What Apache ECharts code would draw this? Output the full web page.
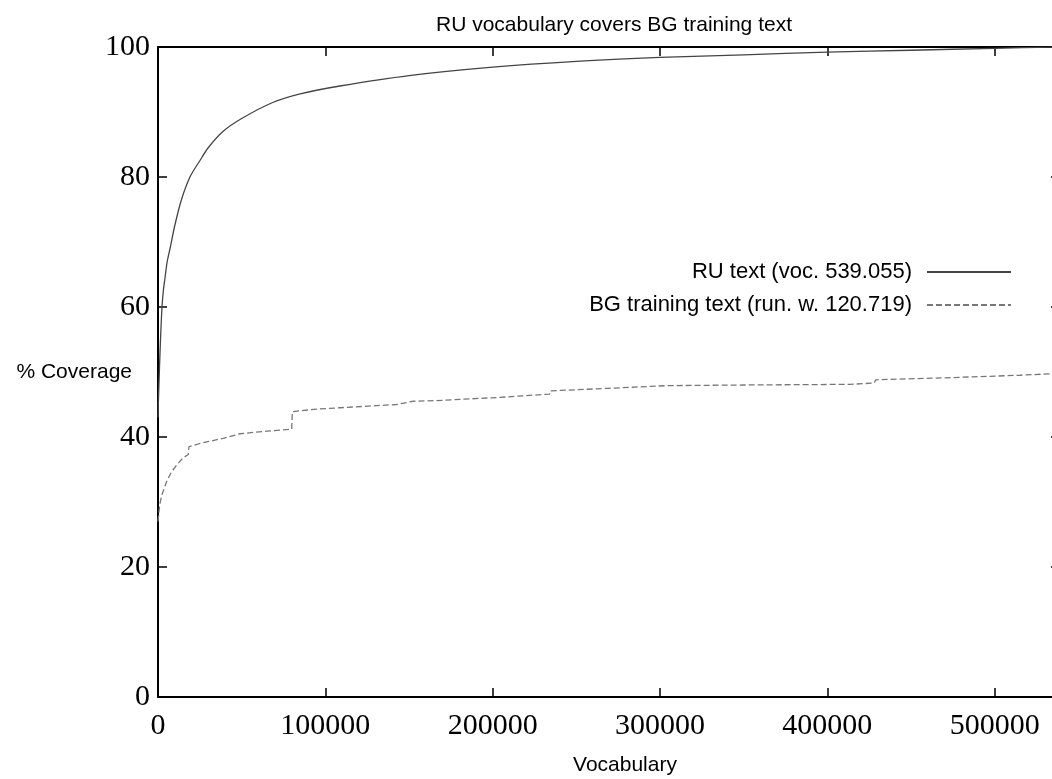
<!DOCTYPE html>
<html>
<head>
<meta charset="utf-8">
<script src="https://cdn.jsdelivr.net/npm/echarts@6/dist/echarts.min.js"></script>
<style>
html,body{margin:0;padding:0;background:#fff;}
#chart{width:1052px;height:779px;}
</style>
</head>
<body>
<div id="chart"></div>
<script>
// ---- data ----
const titleText = 'RU vocabulary covers BG training text';
const xName = 'Vocabulary';
const yName = '% Coverage';
const seriesNames = ['RU text (voc. 539.055)', 'BG training text (run. w. 120.719)'];
const xMax = 539055;
const yTicks = [0, 20, 40, 60, 80, 100];
const xTickStep = 100000;

// RU text: [vocabulary size, % coverage]
const ruVocab = [0, 300, 800, 1500, 2400, 3200, 4200, 5500, 7200, 10000, 14000, 19100, 25000, 30000, 38800, 50000, 68900, 85000, 108700, 150000, 200000, 250000, 300000, 350000, 400000, 450000, 500000, 539055];
const ruCover = [43, 46, 50, 55, 60, 62.5, 64.5, 67, 69, 72.5, 76.5, 80, 82.5, 84.5, 87, 89, 91.5, 92.8, 94, 95.6, 96.9, 97.8, 98.4, 98.8, 99.2, 99.5, 99.8, 100];

// BG training text
const bgVocab = [0, 1000, 2200, 5200, 8000, 11200, 15000, 18100, 18500, 25000, 39000, 49000, 65000, 79900, 80300, 95000, 108700, 142600, 152500, 166500, 204300, 234000, 234500, 270000, 303900, 350000, 413400, 428000, 429000, 470000, 515000, 539055];
const bgCover = [27, 29.5, 31, 33.2, 34.6, 35.7, 36.8, 37.3, 38.5, 39, 39.8, 40.5, 40.9, 41.2, 43.9, 44.3, 44.5, 45.0, 45.5, 45.6, 46.1, 46.6, 47.1, 47.5, 47.9, 48.0, 48.1, 48.3, 48.8, 49.1, 49.5, 49.8];

const ruData = ruVocab.map((v, i) => [v, ruCover[i]]);
const bgData = bgVocab.map((v, i) => [v, bgCover[i]]);

const sans = 'Liberation Sans, Arial, sans-serif';
const serif = 'Liberation Serif, Times New Roman, serif';
const axisColor = '#000';

function frameAxis(extra) {
  return Object.assign({
    axisLine: {show: true, onZero: false, lineStyle: {color: axisColor, width: 2}},
    axisTick: {show: true, inside: true, length: 9, lineStyle: {color: axisColor, width: 1.5}},
    splitLine: {show: false}
  }, extra);
}

function legendFor(name, top) {
  return {
    data: [name],
    orient: 'vertical', align: 'right',
    right: 40, top: top, padding: 0,
    itemWidth: 84, itemHeight: 14,
    itemStyle: {opacity: 0},
    textStyle: {fontFamily: sans, fontSize: 22, color: '#000', padding: [0, 10, 0, 0]}
  };
}

const chart = echarts.init(document.getElementById('chart'), null, {renderer: 'canvas'});
chart.setOption({
  animation: false,
  backgroundColor: '#fff',
  title: {
    text: titleText,
    left: 436, top: 15, padding: 0,
    textStyle: {fontFamily: sans, fontSize: 21, fontWeight: 'normal', color: '#000'}
  },
  legend: [legendFor(seriesNames[0], 261), legendFor(seriesNames[1], 294)],
  grid: {left: 158, right: -8, top: 47, bottom: 82, containLabel: false, outerBoundsMode: 'none'},
  xAxis: [
    frameAxis({
      type: 'value', position: 'bottom', min: 0, max: xMax, interval: xTickStep,
      name: xName, nameLocation: 'middle', nameGap: 58, nameMoveOverlap: false,
      nameTextStyle: {fontFamily: sans, fontSize: 21, color: '#000', padding: [0, 0, 0, 32]},
      axisLabel: {show: true, margin: 14, fontFamily: serif, fontSize: 30, color: '#000',
        showMaxLabel: false, formatter: v => String(v)}
    }),
    frameAxis({
      type: 'value', position: 'top', min: 0, max: xMax, interval: xTickStep,
      axisLabel: {show: false}
    })
  ],
  yAxis: [
    frameAxis({
      type: 'value', position: 'left', min: 0, max: 100, interval: 20,
      name: yName, nameLocation: 'middle', nameRotate: 0, nameGap: 26, nameMoveOverlap: false,
      nameTextStyle: {fontFamily: sans, fontSize: 21, color: '#000', align: 'right', verticalAlign: 'middle'},
      axisLabel: {show: true, margin: 8, fontFamily: serif, fontSize: 30, color: '#000',
        formatter: v => (yTicks.indexOf(v) >= 0 ? String(v) : '')}
    }),
    frameAxis({
      type: 'value', position: 'right', min: 0, max: 100, interval: 20,
      axisLabel: {show: false}
    })
  ],
  series: [
    {
      name: seriesNames[0], type: 'line', xAxisIndex: 0, yAxisIndex: 0,
      data: ruData, symbol: 'none', smooth: 0.3,
      lineStyle: {color: '#444', width: 1.3, type: 'solid'},
      itemStyle: {color: '#444'},
      z: 3
    },
    {
      name: seriesNames[1], type: 'line', xAxisIndex: 0, yAxisIndex: 0,
      data: bgData, symbol: 'none',
      lineStyle: {color: '#777', width: 1.3, type: [6, 3]},
      itemStyle: {color: '#777'},
      z: 2
    }
  ]
});
</script>
</body>
</html>
